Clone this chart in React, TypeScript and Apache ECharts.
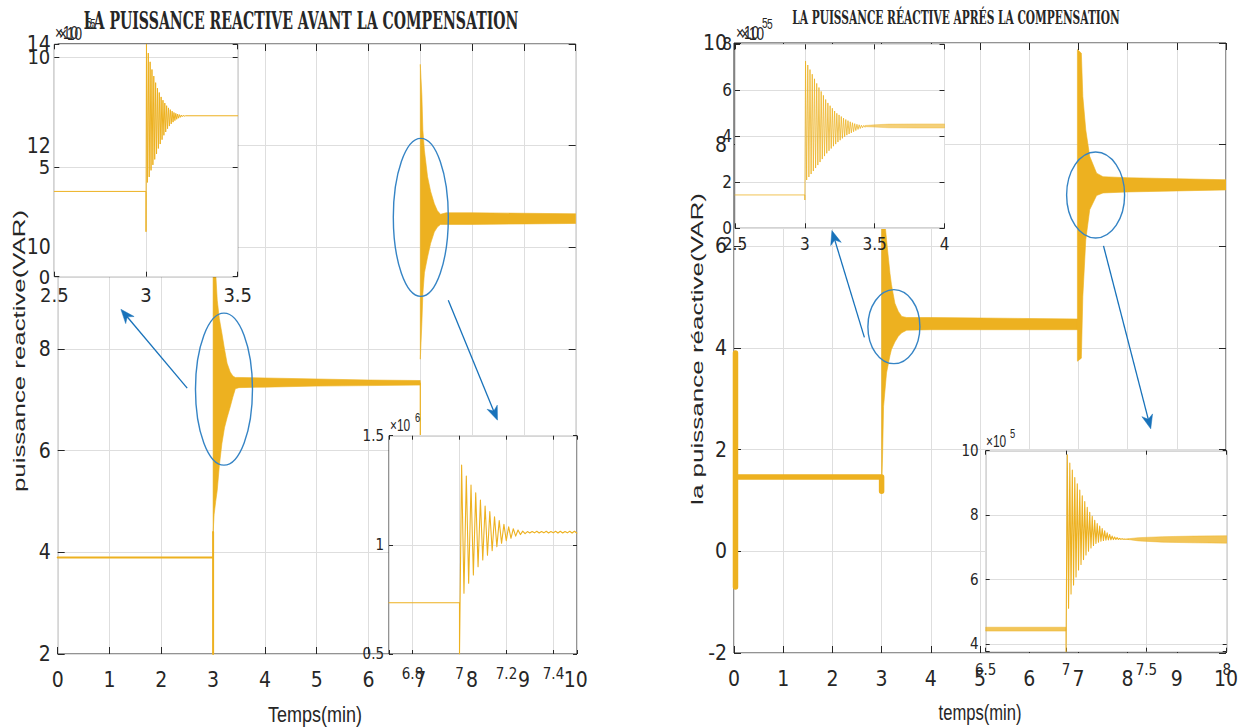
import React, { useEffect, useRef } from 'react';
import * as echarts from 'echarts';

// ===== Data (values in ×10^5 VAR unless noted; time in minutes) =====
// --- main chart, before compensation ---
const L_STEP_T = [0, 3.0, 3.0, 3.0];
const L_STEP_V = [3.9, 3.9, 2.0, 4.4];
const L_B1_T = [3.0, 3.02, 3.05, 3.08, 3.12, 3.17, 3.22, 3.27, 3.33, 3.38, 3.43, 3.5, 4.0, 5.0, 6.0, 7.0];
const L_B1_HI = [10.6, 10.1, 9.5, 8.96, 8.6, 8.31, 8.0, 7.72, 7.55, 7.47, 7.44, 7.44, 7.43, 7.41, 7.39, 7.38];
const L_B1_LO = [4.37, 4.75, 5.0, 5.22, 5.7, 6.14, 6.45, 6.65, 6.86, 7.05, 7.22, 7.24, 7.25, 7.27, 7.28, 7.29];
const L_DIP_T = [7.0, 7.0];
const L_DIP_V = [7.33, 5.0];
const L_B2_T = [7.0, 7.03, 7.05, 7.08, 7.14, 7.2, 7.27, 7.33, 7.39, 7.5, 8.0, 9.0, 10.0];
const L_B2_HI = [13.6, 13.0, 12.3, 11.9, 11.39, 11.1, 10.86, 10.72, 10.65, 10.68, 10.68, 10.67, 10.66];
const L_B2_LO = [7.8, 8.5, 9.09, 9.5, 9.81, 10.08, 10.3, 10.4, 10.45, 10.45, 10.45, 10.46, 10.47];

// --- main chart, after compensation ---
const R_LINE_T = [0.03, 0.03, 0.03, 3.0, 3.0];
const R_LINE_V = [-0.7, 3.9, 1.46, 1.46, 1.18];
const R_B1_T = [3.0, 3.02, 3.04, 3.1, 3.17, 3.2, 3.27, 3.34, 3.41, 3.51, 4.0, 5.0, 6.0, 7.0];
const R_B1_HI = [7.27, 7.0, 6.75, 6.13, 5.47, 5.25, 4.88, 4.72, 4.62, 4.6, 4.6, 4.59, 4.58, 4.57];
const R_B1_LO = [1.18, 1.9, 2.85, 3.51, 3.85, 3.97, 4.12, 4.23, 4.3, 4.35, 4.36, 4.36, 4.36, 4.36];
const R_B2_T = [6.98, 7.06, 7.09, 7.15, 7.23, 7.37, 7.5, 8.0, 9.0, 10.0];
const R_B2_HI = [9.87, 9.8, 8.95, 8.29, 7.77, 7.44, 7.37, 7.35, 7.33, 7.31];
const R_B2_LO = [3.74, 3.8, 5.01, 6.13, 6.72, 7.0, 7.05, 7.07, 7.09, 7.11];

// --- inset A (before, zoom on t = 3) ---
const A_PRE_T = [2.5, 3.0, 3.0];
const A_PRE_V = [3.89, 3.89, 2.05];
const A_T0 = 3.0025;
const A_P = 0.01;
const A_HI = [10.6, 10.2, 9.8, 9.45, 9.15, 8.85, 8.6, 8.4, 8.2, 8.05, 7.92, 7.8, 7.7, 7.62, 7.55, 7.49, 7.45, 7.42, 7.39, 7.37, 7.36];
const A_LO = [4.3, 4.55, 4.85, 5.1, 5.35, 5.6, 5.85, 6.05, 6.25, 6.45, 6.6, 6.75, 6.87, 6.97, 7.05, 7.12, 7.18, 7.23, 7.27, 7.3, 7.32];
const A_TAIL_T = [3.215, 3.5];
const A_TAIL_V = [7.34, 7.34];

// --- inset B (before, zoom on t = 7), values ×10^6 ---
const B_PRE_T = [6.7, 7.0, 7.0];
const B_PRE_V = [0.735, 0.735, 0.5];
const B_T0 = 7.009;
const B_P = 0.02;
const B_HI = [1.366, 1.315, 1.274, 1.239, 1.205, 1.178, 1.152, 1.129, 1.111, 1.094, 1.083, 1.074, 1.068, 1.063, 1.061, 1.061, 1.062, 1.061, 1.062, 1.061, 1.062, 1.062, 1.061, 1.062, 1.062];
const B_LO = [0.778, 0.824, 0.862, 0.9, 0.931, 0.953, 0.973, 0.992, 1.007, 1.019, 1.03, 1.04, 1.047, 1.051, 1.054, 1.055, 1.054, 1.055, 1.054, 1.055, 1.054, 1.054, 1.055, 1.054, 1.054];

// --- inset C (after, zoom on t = 3) ---
const C_PRE_T = [2.5, 3.0, 3.0];
const C_PRE_V = [1.45, 1.45, 1.23];
const C_T0 = 3.005;
const C_P = 0.016;
const C_HI = [7.27, 7.1, 6.9, 6.7, 6.5, 6.3, 6.12, 5.95, 5.78, 5.6, 5.45, 5.33, 5.22, 5.1, 5.0, 4.93, 4.86, 4.79, 4.73, 4.68, 4.63, 4.59, 4.55, 4.52, 4.5, 4.48, 4.47];
const C_LO = [2.1, 2.23, 2.36, 2.49, 2.62, 2.75, 2.88, 3.01, 3.14, 3.26, 3.37, 3.47, 3.57, 3.66, 3.75, 3.83, 3.91, 3.98, 4.05, 4.1, 4.15, 4.2, 4.25, 4.3, 4.34, 4.37, 4.4];
const C_RIP_T = [3.43, 3.5, 3.6, 3.8, 4.0];
const C_RIP_HI = [4.47, 4.5, 4.53, 4.54, 4.54];
const C_RIP_LO = [4.42, 4.4, 4.37, 4.36, 4.36];

// --- inset D (after, zoom on t = 7) ---
const D_PRE_T = [6.5, 7.0];
const D_PRE_HI = [4.52, 4.52];
const D_PRE_LO = [4.4, 4.4];
const D_STEP_T = [7.0, 7.0];
const D_STEP_V = [4.46, 3.76];
const D_T0 = 7.008;
const D_P = 0.0155;
const D_HI = [9.87, 9.62, 9.4, 9.17, 8.97, 8.78, 8.6, 8.42, 8.24, 8.09, 7.96, 7.84, 7.74, 7.66, 7.58, 7.51, 7.45, 7.4, 7.35, 7.32, 7.3, 7.28, 7.27, 7.26, 7.255];
const D_LO = [5.11, 5.55, 5.83, 6.08, 6.3, 6.47, 6.62, 6.76, 6.88, 6.98, 7.06, 7.12, 7.16, 7.19, 7.21, 7.22, 7.23, 7.235, 7.24, 7.243, 7.245, 7.247, 7.25, 7.25, 7.25];
const D_RIP_T = [7.385, 7.45, 7.6, 7.8, 8.0];
const D_RIP_HI = [7.265, 7.3, 7.33, 7.35, 7.36];
const D_RIP_LO = [7.245, 7.2, 7.16, 7.14, 7.13];

// axis ranges [min, max, tick step]: main L, main R, inset A, B, C, D
const X_RANGES = [[0, 10, 1], [0, 10, 1], [2.5, 3.5, 0.5], [6.7, 7.5, 0.2], [2.5, 4, 0.5], [6.5, 8, 0.5]];
const Y_RANGES = [[2, 14, 2], [-2, 10, 2], [0, 10.6, 5], [0.5, 1.5, 0.5], [0, 8, 2], [3.76, 10, 2]];

const TITLE_L = 'LA PUISSANCE REACTIVE AVANT LA COMPENSATION';
const TITLE_R = 'LA PUISSANCE RÉACTIVE APRÉS LA COMPENSATION';
const YNAME_L = 'puissance reactive(VAR)';
const YNAME_R = 'la puissance réactive(VAR)';
const XNAME_L = 'Temps(min)';
const XNAME_R = 'temps(min)';

// ===== Layout / styles =====
const YEL = '#EDB120';
const INK = '#262626';
const GRIDC = '#dedede';
const E_BLUE = '#3584C5';
const A_BLUE = '#1872BA';
const NARROW = "'Liberation Sans Narrow', 'DejaVu Sans Condensed', 'Liberation Sans', Arial, sans-serif";
const SANS = "'Liberation Sans', Arial, sans-serif";
const SERIF = "'DejaVu Serif', 'Liberation Serif', serif";

const GRIDS = [
  { left: 57.7, top: 44, width: 518, height: 610, z: 1 },
  { left: 734, top: 43, width: 492, height: 610, z: 1 },
  { left: 54.3, top: 44.3, width: 183.4, height: 232.4, z: 10 },
  { left: 389, top: 435.7, width: 188, height: 218.3, z: 10 },
  { left: 735, top: 44.3, width: 209.5, height: 184, z: 10 },
  { left: 985.7, top: 450.7, width: 241, height: 201, z: 10 },
];
const FONT = [21, 21, 20, 15, 17, 15];
const XM = [15, 15, 8, 12, 7, 11];
const YM = [7, 7, 4, 5, 3, 7];
const TL = [7, 7, 5, 4, 5, 4];

const zip = (ts: number[], vs: number[]) => ts.map((t, i) => [t, vs[i]]);
const zig = (t0: number, p: number, hi: number[], lo: number[]) => {
  const out: number[][] = [];
  for (let i = 0; i < hi.length; i++) {
    out.push([t0 + i * p, hi[i]]);
    if (i < lo.length) out.push([t0 + (i + 0.5) * p, lo[i]]);
  }
  return out;
};

const fmtTick = (step: number) => (v: number) => {
  const k = v / step;
  if (Math.abs(k - Math.round(k)) > 1e-6) return '';
  return String(Math.round(v * 1000) / 1000);
};

function axis(kind: 'x' | 'y', gi: number, second: boolean) {
  const [min, max, step] = kind === 'x' ? X_RANGES[gi] : Y_RANGES[gi];
  const inset = gi >= 2;
  return {
    type: 'value',
    gridIndex: gi,
    min,
    max,
    minInterval: step,
    maxInterval: step,
    splitNumber: Math.round((max - min) / step),
    position: kind === 'x' ? (second ? 'top' : 'bottom') : second ? 'right' : 'left',
    z: inset ? 11 : 2,
    silent: true,
    axisLine: { show: false, onZero: false },
    axisTick: { show: true, inside: true, length: TL[gi], lineStyle: { color: INK, width: 1 } },
    axisLabel: {
      show: !second,
      fontSize: FONT[gi],
      fontFamily: NARROW,
      color: INK,
      margin: kind === 'x' ? XM[gi] : YM[gi],
      formatter: fmtTick(step),
    },
    splitLine: { show: !second, lineStyle: { color: GRIDC, width: 1 } },
  };
}

function line(gi: number, data: number[][], width: number, z: number, opacity = 1) {
  return {
    type: 'line',
    xAxisIndex: gi,
    yAxisIndex: gi,
    data,
    symbol: 'none',
    showSymbol: false,
    silent: true,
    clip: true,
    z,
    lineStyle: { color: YEL, width, opacity, join: 'round', cap: 'round' },
  };
}

function band(gi: number, ts: number[], hi: number[], lo: number[], z: number, opacity = 1) {
  const pts = ts.map((t, i) => [t, hi[i]]).concat(ts.map((t, i) => [t, lo[i]]).reverse());
  return {
    type: 'custom',
    xAxisIndex: gi,
    yAxisIndex: gi,
    data: [[ts[0], hi[0]]],
    encode: { x: 0, y: 1 },
    silent: true,
    clip: true,
    z,
    renderItem: (_p: any, api: any) => ({
      type: 'polygon',
      shape: { points: pts.map((p) => api.coord(p)) },
      style: { fill: YEL, stroke: YEL, lineWidth: 0.6, opacity },
    }),
  };
}

// annotations in data coordinates of the main grids
const ELLIPSES = [
  { g: 0, t: 3.21, v: 7.21, rx: 28.5, ry: 76 },
  { g: 0, t: 7.01, v: 10.59, rx: 27.5, ry: 79 },
  { g: 1, t: 3.25, v: 4.42, rx: 26, ry: 37 },
  { g: 1, t: 7.35, v: 7.01, rx: 29, ry: 43 },
];
const ARROWS = [
  { g: 0, from: [2.5, 7.23], to: [1.22, 8.78] },
  { g: 0, from: [7.54, 8.96], to: [8.49, 6.6] },
  { g: 1, from: [2.65, 4.21], to: [1.99, 6.31] },
  { g: 1, from: [7.51, 6.01], to: [8.47, 2.41] },
];

export default function App() {
  const ref = useRef<HTMLDivElement>(null);
  useEffect(() => {
    if (!ref.current) return;
    const chart = echarts.init(ref.current, undefined, { renderer: 'svg' });

    const xAxis: any[] = [];
    const yAxis: any[] = [];
    for (let g = 0; g < 6; g++) { xAxis.push(axis('x', g, false)); yAxis.push(axis('y', g, false)); }
    for (let g = 0; g < 6; g++) { xAxis.push(axis('x', g, true)); yAxis.push(axis('y', g, true)); }

    const series: any[] = [
      line(0, zip(L_STEP_T, L_STEP_V), 2, 3),
      band(0, L_B1_T, L_B1_HI, L_B1_LO, 3),
      line(0, zip(L_DIP_T, L_DIP_V), 1.2, 3),
      band(0, L_B2_T, L_B2_HI, L_B2_LO, 3),
      line(1, zip(R_LINE_T, R_LINE_V), 5.5, 3),
      band(1, R_B1_T, R_B1_HI, R_B1_LO, 3),
      band(1, R_B2_T, R_B2_HI, R_B2_LO, 3),
      line(2, [...zip(A_PRE_T, A_PRE_V), ...zig(A_T0, A_P, A_HI, A_LO), ...zip(A_TAIL_T, A_TAIL_V)], 1, 12),
      line(3, [...zip(B_PRE_T, B_PRE_V), ...zig(B_T0, B_P, B_HI, B_LO)], 1.1, 12),
      line(4, [...zip(C_PRE_T, C_PRE_V), ...zig(C_T0, C_P, C_HI, C_LO)], 0.9, 12, 0.85),
      band(4, C_RIP_T, C_RIP_HI, C_RIP_LO, 12, 0.6),
      band(5, D_PRE_T, D_PRE_HI, D_PRE_LO, 12, 0.75),
      line(5, [...zip(D_STEP_T, D_STEP_V), ...zig(D_T0, D_P, D_HI, D_LO)], 1.1, 12),
      band(5, D_RIP_T, D_RIP_HI, D_RIP_LO, 12, 0.75),
    ];

    chart.setOption({
      animation: false,
      backgroundColor: '#ffffff',
      grid: GRIDS.map((g) => ({
        left: g.left, top: g.top, width: g.width, height: g.height,
        show: true, backgroundColor: '#ffffff', borderColor: INK, borderWidth: 1,
        z: g.z, containLabel: false, outerBoundsMode: 'none',
      })),
      xAxis,
      yAxis,
      series,
    });

    const px = (g: number, p: number[]) => chart.convertToPixel({ xAxisIndex: g, yAxisIndex: g } as any, p) as number[];
    const ctx = document.createElement('canvas').getContext('2d')!;
    const measure = (text: string, font: string) => { ctx.font = font; return ctx.measureText(text).width; };

    const els: any[] = [];
    ELLIPSES.forEach((e) => {
      const [cx, cy] = px(e.g, [e.t, e.v]);
      els.push({ type: 'ellipse', z: 20, silent: true, shape: { cx, cy, rx: e.rx, ry: e.ry }, style: { fill: 'none', stroke: E_BLUE, lineWidth: 1.4 } });
    });
    ARROWS.forEach((a) => {
      const [x1, y1] = px(a.g, a.from);
      const [x2, y2] = px(a.g, a.to);
      const dx = x2 - x1, dy = y2 - y1;
      const len = Math.hypot(dx, dy);
      const ux = dx / len, uy = dy / len;
      const nx = -uy, ny = ux;
      const L = 14, W = 5.5;
      els.push({ type: 'line', z: 20, silent: true, shape: { x1, y1, x2: x2 - ux * L * 0.6, y2: y2 - uy * L * 0.6 }, style: { stroke: A_BLUE, lineWidth: 1.3 } });
      els.push({
        type: 'polygon', z: 20, silent: true,
        shape: { points: [[x2, y2], [x2 - ux * L + nx * W, y2 - uy * L + ny * W], [x2 - ux * L * 0.7, y2 - uy * L * 0.7], [x2 - ux * L - nx * W, y2 - uy * L - ny * W]] },
        style: { fill: A_BLUE, stroke: A_BLUE, lineWidth: 0.5 },
      });
    });

    const fitted = (text: string, x: number, y: number, size: number, family: string, weight: string, w: number, rot = 0) => {
      const m = measure(text, `${weight} ${size}px ${family}`);
      const s = w / m;
      els.push({
        type: 'text', z: 30, silent: true, x, y, rotation: rot,
        scaleX: s, scaleY: 1,
        style: { text, fontSize: size, fontFamily: family, fontWeight: weight, fill: INK, align: 'center', verticalAlign: 'middle', textAlign: 'center', textVerticalAlign: 'middle' },
      });
    };
    fitted(TITLE_L, 301, 20, 25, SERIF, 'bold', 435);
    fitted(TITLE_R, 956, 18, 19, SERIF, 'bold', 328);
    fitted(YNAME_L, 19.5, 351, 16, SANS, 'normal', 282, Math.PI / 2);
    fitted(YNAME_R, 697, 349, 17, SANS, 'normal', 312, Math.PI / 2);
    fitted(XNAME_L, 315, 714, 22, SANS, 'normal', 94);
    fitted(XNAME_R, 980, 712, 22, SANS, 'normal', 83);

    const small = (text: string, x: number, y: number, size: number) => {
      els.push({
        type: 'text', z: 30, silent: true, x, y, scaleX: 0.85, scaleY: 1.15,
        style: { text, fontSize: size, fontFamily: SANS, fill: INK, align: 'left', verticalAlign: 'middle', textAlign: 'left', textVerticalAlign: 'middle' },
      });
    };
    // exponent labels (main + inset copies overlap like the original figure)
    small('×10', 55, 32, 16); small('5', 86, 23, 12);
    small('×10', 59, 33, 16); small('5', 90, 24, 12);
    small('×10', 736, 32, 16); small('5', 762, 23, 12);
    small('×10', 741, 33, 16); small('5', 767, 24, 12);
    small('×10', 390, 425, 14); small('6', 415, 417, 11);
    small('×10', 986, 441, 14); small('5', 1010, 433, 11);

    chart.setOption({ graphic: { elements: els } });

    return () => chart.dispose();
  }, []);

  return <div ref={ref} style={{ position: 'fixed', left: 0, top: 0, width: 1243, height: 728, background: '#fff' }} />;
}
